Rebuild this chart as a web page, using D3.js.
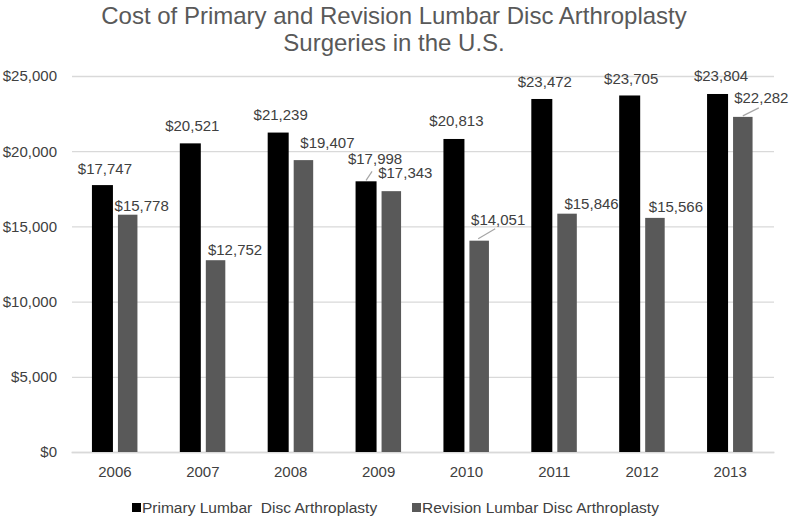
<!DOCTYPE html>
<html><head><meta charset="utf-8">
<script src="https://cdn.jsdelivr.net/npm/d3@7"></script>
<style>body{margin:0;background:#fff}svg{font-family:"Liberation Sans",Arial,sans-serif}</style>
</head><body><svg id="c" width="792" height="518"></svg>
<script>
const years = ["2006","2007","2008","2009","2010","2011","2012","2013"];
const primary = [17747,20521,21239,17998,20813,23472,23705,23804];
const revision = [15778,12752,19407,17343,14051,15846,15566,22282];
const yTicks = [0,5000,10000,15000,20000,25000];
const seriesNames = ["Primary Lumbar  Disc Arthroplasty","Revision Lumbar Disc Arthroplasty"];
// label offsets: [dx from bar center, dy of label centre from bar top]
const primaryLabelOffsets = [[2.5,-17],[2,-18],[2.5,-18],[9,-23],[2.5,-18],[3,-17],[1.5,-17],[3.5,-18]];
const revisionLabelOffsets = [[14,-9],[19.5,-11],[24,-18],[14,-19],[19,-21],[24.5,-10],[21,-11],[18.5,-19]];

const svg = d3.select("#c");
const x = d3.scaleBand().domain(years).range([71,774]);
const y = d3.scaleLinear().domain([0,25000]).range([452,76]);
const fmt = v => "$" + d3.format(",")(v);
const txt = "#404040";
const FF = "Liberation Sans, Arial, sans-serif";

svg.append("text").attr("x",394).attr("y",24).attr("text-anchor","middle")
  .attr("font-size",24).attr("fill","#595959").text("Cost of Primary and Revision Lumbar Disc Arthroplasty");
svg.append("text").attr("x",394).attr("y",51).attr("text-anchor","middle")
  .attr("font-size",24).attr("fill","#595959").text("Surgeries in the U.S.");

// grid + y axis
const gy = svg.append("g").attr("transform","translate(72,0)")
  .call(d3.axisLeft(y).tickValues(yTicks).tickSize(-702).tickFormat(d => fmt(d)).tickPadding(15));
gy.select(".domain").remove();
gy.selectAll(".tick line").attr("stroke","#d9d9d9").attr("stroke-width",1.3);
gy.selectAll(".tick text").attr("font-size",15).attr("fill",txt).attr("font-family",FF);

const gx = svg.append("g").attr("transform","translate(0,452)")
  .call(d3.axisBottom(x).tickSize(0).tickPadding(14));
gx.select(".domain").attr("stroke","#d9d9d9").attr("stroke-width",1.3);
gx.selectAll(".tick text").attr("font-size",15).attr("fill",txt).attr("font-family",FF);

const cx = d => x(d) + x.bandwidth()/2;
const pX = d => cx(d) - 23, pW = 21;
const rX = d => cx(d) + 3, rW = 19.5;

svg.selectAll(".p").data(years).join("rect")
  .attr("x",pX).attr("width",pW)
  .attr("y",(d,i)=>y(primary[i])).attr("height",(d,i)=>y(0)-y(primary[i])).attr("fill","#000");
svg.selectAll(".r").data(years).join("rect")
  .attr("x",rX).attr("width",rW)
  .attr("y",(d,i)=>y(revision[i])).attr("height",(d,i)=>y(0)-y(revision[i])).attr("fill","#595959");

// labels
years.forEach((d,i)=>{
  const pc = pX(d)+pW/2, rc = rX(d)+rW/2;
  const po = primaryLabelOffsets[i], ro = revisionLabelOffsets[i];
  svg.append("text").attr("x",pc+po[0]).attr("y",y(primary[i])+po[1]+5.5).attr("text-anchor","middle")
    .attr("font-size",15).attr("fill",txt).text(fmt(primary[i]));
  svg.append("text").attr("x",rc+ro[0]).attr("y",y(revision[i])+ro[1]+5.5).attr("text-anchor","middle")
    .attr("font-size",15).attr("fill",txt).text(fmt(revision[i]));
});
// leader lines
const leader = (x1,y1,x2,y2)=>svg.append("line").attr("x1",x1).attr("y1",y1).attr("x2",x2).attr("y2",y2)
  .attr("stroke","#a6a6a6").attr("stroke-width",1.2);
{ const d="2009", i=3; const pc=pX(d)+pW/2; leader(pc, y(primary[i])-1, pc+6, y(primary[i])-10); }
{ const d="2010", i=4; const rc=rX(d)+rW/2; leader(rc-1, y(revision[i])-2, rc+16, y(revision[i])-12); }
{ const d="2013", i=7; const rc=rX(d)+rW/2; leader(rc, y(revision[i])-1, rc+16, y(revision[i])-9); }

// legend
const lg = svg.append("g");
[["#000",132,142],["#595959",412,422]].forEach((s,k)=>{
  lg.append("rect").attr("x",s[1]).attr("y",503).attr("width",9).attr("height",9).attr("fill",s[0]);
  lg.append("text").attr("x",s[2]).attr("y",513).attr("font-size",15.5).attr("fill",txt)
    .attr("xml:space","preserve").style("white-space","pre").text(seriesNames[k]);
});
</script></body></html>
